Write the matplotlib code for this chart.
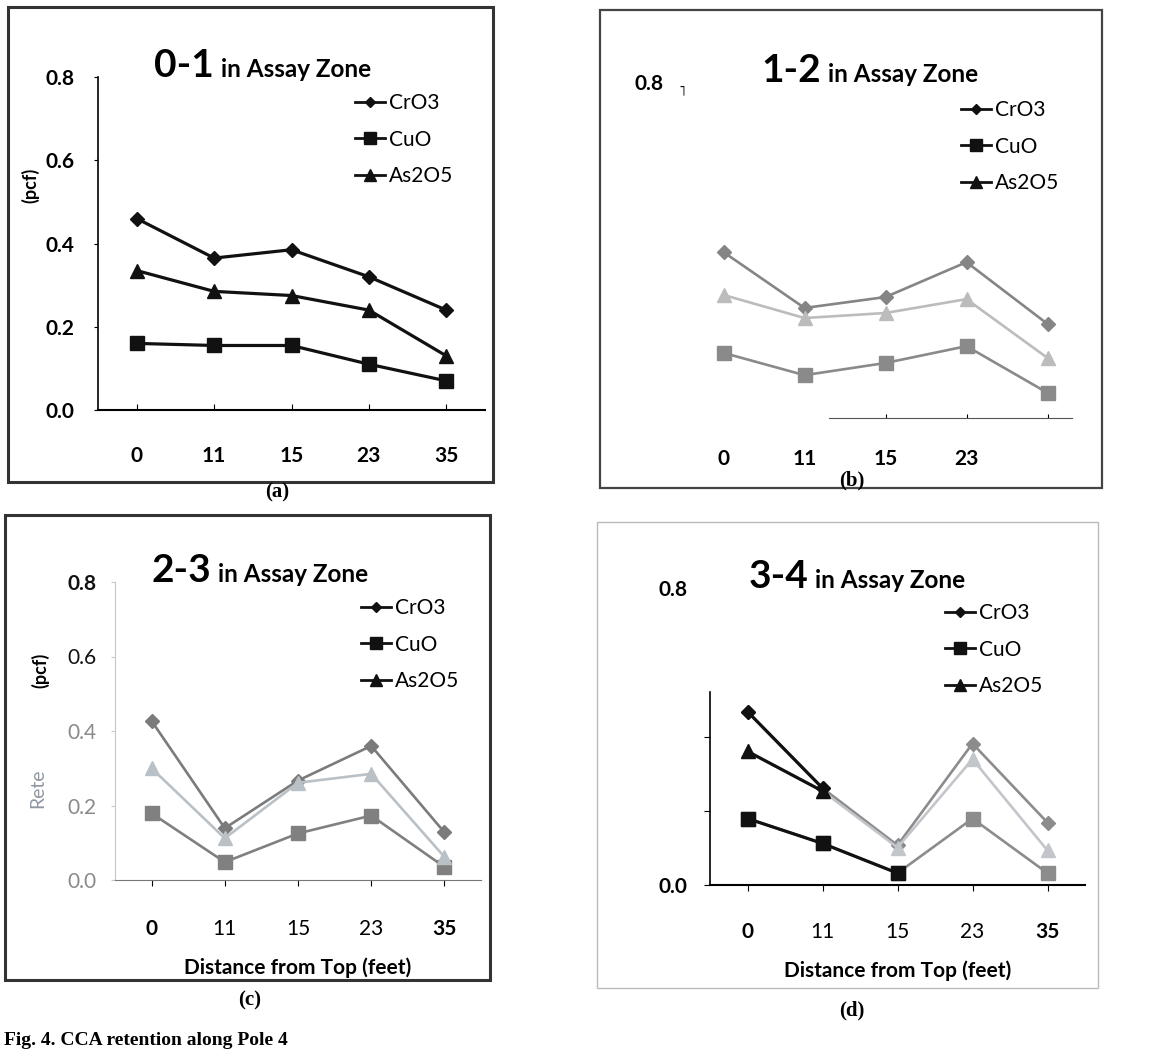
import matplotlib
matplotlib.use("Agg")
import matplotlib.pyplot as plt
from matplotlib.lines import Line2D
from matplotlib.patches import Rectangle

W, H = 1172, 1051
plt.rcParams["font.family"] = ["Lato", "DejaVu Sans"]

depths = ["0", "11", "15", "23", "35"]
zones = ["0-1", "1-2", "2-3", "3-4"]
series = ["CrO3", "CuO", "As2O5"]

a_cro3 = [0.46, 0.365, 0.385, 0.32, 0.24]
a_cuo = [0.16, 0.155, 0.155, 0.11, 0.07]
a_as2o5 = [0.335, 0.285, 0.275, 0.24, 0.13]
b_cro3 = [0.395, 0.262, 0.288, 0.371, 0.224]
b_cuo = [0.155, 0.102, 0.131, 0.171, 0.06]
b_as2o5 = [0.293, 0.238, 0.25, 0.283, 0.143]
c_cro3 = [0.427, 0.139, 0.267, 0.36, 0.128]
c_cuo = [0.179, 0.048, 0.125, 0.173, 0.035]
c_as2o5 = [0.30, 0.112, 0.261, 0.285, 0.062]
d_cro3 = [0.467, 0.261, 0.107, 0.381, 0.168]
d_cuo = [0.179, 0.112, 0.032, 0.179, 0.032]
d_as2o5 = [0.36, 0.253, 0.101, 0.339, 0.093]


def fx(x):
    return x / W


def fy(y):
    return 1 - y / H


def box(x0, y0, x1, y1):
    return [fx(x0), fy(y1), (x1 - x0) / W, (y1 - y0) / H]


fig = plt.figure(figsize=(W / 100, H / 100), dpi=100)

# panel frames (figure pixels)
for (x0, y0, x1, y1), col, lw in [((8, 7, 493, 482), "#333333", 2.2),
                                 ((600, 10, 1102, 488), "#444444", 1.6),
                                 ((5, 515, 490, 980), "#333333", 2.2),
                                 ((597, 522, 1098, 988), "#bbbbbb", 1.0)]:
    fig.add_artist(Rectangle((fx(x0), fy(y1)), (x1 - x0) / W, (y1 - y0) / H,
                             transform=fig.transFigure, fill=False, ec=col, lw=lw))

markers = {"CrO3": ("D", 7), "CuO": ("s", 10), "As2O5": ("^", 10)}
xs = list(range(len(depths)))

panels = [
    # axes box, data, colours, title pos (split x, baseline), legend top-left
    dict(box=(98, 77, 485, 410), data=[a_cro3, a_cuo, a_as2o5],
         cols=["#111111", "#111111", "#111111"], title=(214, 77), leg=(355, 93)),
    dict(box=(683, 82, 1088, 418), data=[b_cro3, b_cuo, b_as2o5],
         cols=["#858585", "#8a8a8a", "#bcbcbc"], title=(821, 82), leg=(961, 100)),
    dict(box=(115, 582, 481, 880), data=[c_cro3, c_cuo, c_as2o5],
         cols=["#7b7b7b", "#808080", "#bac1c6"], title=(211, 582), leg=(361, 598)),
    dict(box=(710, 588, 1085, 885), data=[d_cro3, d_cuo, d_as2o5],
         cols=["#8c8c8c", "#8c8c8c", "#c2c6ca"], title=(808, 588), leg=(945, 603)),
]

axes = []
for i, p in enumerate(panels):
    ax = fig.add_axes(box(*p["box"]))
    axes.append(ax)
    ax.set_xlim(-0.5, 4.5)
    ax.set_ylim(0, 0.8)
    ax.patch.set_alpha(0)
    for s in ("top", "right"):
        ax.spines[s].set_visible(False)
    lw = 2.3 if i == 0 else 1.9
    for name, vals, col in zip(series, p["data"], p["cols"]):
        m, ms = markers[name]
        ax.plot(xs, vals, color=col, lw=lw, marker=m, ms=ms, mfc=col, mec=col, zorder=3)
    # title: big zone number + smaller text
    tx, ty = p["title"]
    fig.text(fx(tx), fy(ty), zones[i], ha="right", va="baseline",
             fontsize=28, fontweight="bold")
    fig.text(fx(tx + 7), fy(ty), "in Assay Zone", ha="left", va="baseline",
             fontsize=17.5, fontweight="bold")
    handles = [Line2D([], [], color="#111111", lw=2, marker=markers[n][0],
                      ms=markers[n][1] * 0.8) for n in series]
    lx, ly = p["leg"]
    ax.legend(handles, series, loc="upper left", bbox_to_anchor=(fx(lx), fy(ly)),
              bbox_transform=fig.transFigure, frameon=False, fontsize=15,
              handlelength=1.45, handletextpad=0.2, labelspacing=0.8,
              borderpad=0, borderaxespad=0)

# panel (a)
ax = axes[0]
ax.set_yticks([0, 0.2, 0.4, 0.6, 0.8], ["0.0", "0.2", "0.4", "0.6", "0.8"],
              fontsize=15, fontweight="bold")
ax.set_xticks(xs, depths, fontsize=15, fontweight="bold")
ax.tick_params(axis="y", length=3, pad=14)
ax.tick_params(axis="x", direction="in", length=4, pad=26)
ax.spines["left"].set_linewidth(1.2)
ax.spines["bottom"].set_linewidth(1.5)
fig.text(fx(30), fy(185), "(pcf)", rotation=90, ha="center", va="center",
         fontsize=13, fontweight="bold")

# panel (b)
ax = axes[1]
ax.spines["left"].set_visible(False)
ax.spines["bottom"].set_color("#555555")
ax.spines["bottom"].set_bounds(1.3, 4.3)
ax.set_yticks([0.8], ["0.8"], fontsize=15, fontweight="bold")
ax.set_xticks(xs, depths[:4] + [""], fontsize=15, fontweight="bold")
ax.tick_params(axis="y", length=0, pad=14)
ax.tick_params(axis="x", length=3, direction="in", pad=22)
for t in ax.xaxis.get_major_ticks()[:2]:
    t.tick1line.set_visible(False)
fig.text(fx(682), fy(92), "˥", ha="center", va="center", fontsize=10, family="DejaVu Sans")

# panel (c)
ax = axes[2]
ax.spines["left"].set_color("#c8c8c8")
ax.spines["bottom"].set_color("#777777")
ax.set_yticks([0, 0.2, 0.4, 0.6, 0.8], ["0.0", "0.2", "0.4", "0.6", "0.8"], fontsize=15)
ax.tick_params(axis="y", length=3, color="#c8c8c8", pad=10)
for t, c, wt in zip(ax.get_yticklabels(), ["#8a8a8a", "#8a8a8a", "#8a8a8a", "#111111", "#111111"],
                    ["normal", "normal", "normal", "normal", "bold"]):
    t.set_color(c)
    t.set_fontweight(wt)
ax.set_xticks(xs, depths, fontsize=15)
ax.tick_params(axis="x", length=4, pad=24)
for t, wt in zip(ax.get_xticklabels(), ["bold", "normal", "normal", "normal", "bold"]):
    t.set_fontweight(wt)
ax.set_xlabel("Distance from Top (feet)", fontsize=15, fontweight="bold", labelpad=13)
fig.text(fx(40), fy(670), "(pcf)", rotation=90, ha="center", va="center",
         fontsize=13, fontweight="bold")
fig.text(fx(38), fy(788), "Rete", rotation=90, ha="center", va="center",
         fontsize=14, color="#8f97a0")

# panel (d): the first segments are drawn in black in the original
ax = axes[3]
for vals, name, n in [(d_cro3, "CrO3", 2), (d_as2o5, "As2O5", 2), (d_cuo, "CuO", 3)]:
    m, ms = markers[name]
    ax.plot(xs[:n], vals[:n], color="#111111", lw=2.3, marker=m, ms=ms, zorder=4)
ax.spines["left"].set_bounds(0, 0.52)
ax.spines["left"].set_linewidth(1.2)
ax.spines["bottom"].set_linewidth(1.5)
ax.set_yticks([0, 0.2, 0.4, 0.8], ["0.0", "", "", "0.8"], fontsize=15, fontweight="bold")
ax.yaxis.get_major_ticks()[3].tick1line.set_visible(False)
ax.tick_params(axis="y", length=4, pad=12)
ax.set_xticks(xs, depths, fontsize=15)
ax.tick_params(axis="x", length=4, pad=23)
for t, wt in zip(ax.get_xticklabels(), ["bold", "normal", "normal", "normal", "bold"]):
    t.set_fontweight(wt)
ax.set_xlabel("Distance from Top (feet)", fontsize=15, fontweight="bold", labelpad=13)

# captions
for x, y, s in [(277, 492, "(a)"), (852, 480, "(b)"), (250, 1000, "(c)"), (852, 1010, "(d)")]:
    fig.text(fx(x), fy(y), s, ha="center", va="center", fontsize=15,
             family="Liberation Serif", fontweight="bold")
fig.text(fx(4), fy(1049), "Fig. 4. CCA retention along Pole 4", ha="left", va="bottom",
         fontsize=14, family="Liberation Serif", fontweight="bold")

fig.savefig("out.png", dpi=100)
